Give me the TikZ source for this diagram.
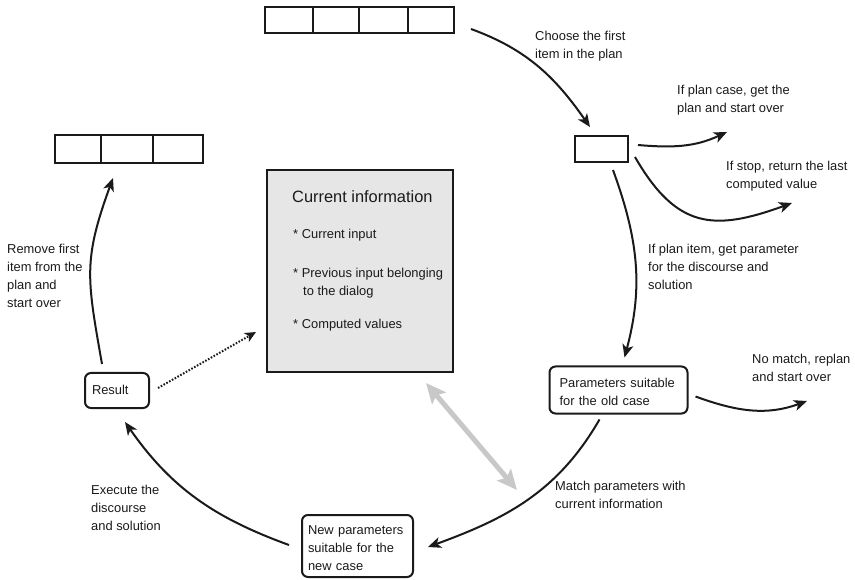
\documentclass[tikz,border=0pt]{standalone}
\usepackage{fontspec}
\setmainfont{Liberation Sans}
\usetikzlibrary{arrows.meta}
\definecolor{ink}{HTML}{1A1A1A}
\definecolor{panel}{HTML}{E6E6E6}
\definecolor{link}{HTML}{C8C8C8}

\begin{document}
\begin{tikzpicture}[x=1pt,y=-1pt,
  txt/.style={font=\fontsize{12.9}{18}\selectfont, text=ink},
  lbl/.style={txt, anchor=north west, inner sep=0pt, align=left, execute at begin node=\strut},
  flow/.style={draw=ink, line width=2pt, -{Stealth[length=13pt,width=11pt,inset=3.5pt]}},
  stripbox/.style={draw=ink, line width=2pt, inner sep=0pt},
  rbox/.style={txt, draw=ink, line width=2pt, rounded corners=6pt, align=left,
               inner ysep=0pt, execute at begin node=\strut},
]
\useasboundingbox (0,0) rectangle (855,580);

% plan strips
\node[stripbox, minimum width=189pt, minimum height=26pt] (plantop) at (359.5,20) {};
\foreach \dx in {49,95,144}
  \draw[ink, line width=2pt] ([xshift=\dx pt]plantop.north west) -- ([xshift=\dx pt]plantop.south west);
\node[stripbox, minimum width=148pt, minimum height=28pt] (planleft) at (129,149) {};
\foreach \dx in {47,99}
  \draw[ink, line width=2pt] ([xshift=\dx pt]planleft.north west) -- ([xshift=\dx pt]planleft.south west);

% current plan item
\node[stripbox, minimum width=53pt, minimum height=26pt] (cur) at (601.5,149) {};

% shared information panel
\node[draw=ink, fill=panel, line width=2pt, minimum width=186pt, minimum height=202pt, inner sep=0pt] (info) at (360,271) {};
\node[anchor=base west, inner sep=0pt, font=\fontsize{16.4}{20}\selectfont, text=ink] (infotitle) at (292,203) {Current information};
\node[lbl] (infolist) at (293,229.4) {* Current input\\[21pt]* Previous input belonging\\\hspace*{10pt}to the dialog\\[15pt]* Computed values};

% process boxes
\node[rbox, minimum width=64pt, minimum height=35pt, inner xsep=7pt, text width=50pt] (result) at (117,390.5) {Result};
\node[rbox, minimum width=138pt, minimum height=47pt, inner xsep=10pt, text width=118pt] (oldcase) at (618.5,390) {Parameters suitable\\for the old case};
\node[rbox, minimum width=111pt, minimum height=62pt, inner xsep=6pt, text width=99pt] (newcase) at (357.5,546) {New parameters\\suitable for the\\new case};

% edge labels
\node[lbl] (choose) at (535,31.4) {Choose the first\\item in the plan};
\node[lbl] (plancase) at (677,85.4) {If plan case, get the\\plan and start over};
\node[lbl] (stop) at (726,161.4) {If stop, return the last\\computed value};
\node[lbl] (planitem) at (648,244.4) {If plan item, get parameter\\for the discourse and\\solution};
\node[lbl] (nomatch) at (752,354.4) {No match, replan\\and start over};
\node[lbl] (match) at (555,481.4) {Match parameters with\\current information};
\node[lbl] (execute) at (91,485.4) {Execute the\\discourse\\and solution};
\node[lbl] (remove) at (7,244.4) {Remove first\\item from the\\plan and\\start over};

% loose ends
\coordinate (plancaseend) at (727,132);
\coordinate (stopend) at (792,203);
\coordinate (nomatchend) at (807,401);
\coordinate (matchend) at (517,490);

% connectors
\draw[flow] ([shift={(16,9)}]plantop.east) to[out=-20,in=125] ([shift={(-11.5,-8)}]cur.north);
\draw[flow] ([shift={(9,-4)}]cur.east) to[out=-5,in=205] (plancaseend);
\draw[flow] ([shift={(6,-6)}]cur.south east) to[out=-60,in=200,looseness=1.3] (stopend);
\draw[flow] ([shift={(11.5,7)}]cur.south) to[out=-70,in=75] ([shift={(6,-8)}]oldcase.north);
\draw[flow] ([shift={(7,6.5)}]oldcase.east) to[out=-20,in=200] (nomatchend);
\draw[flow] ([shift={(-19,5)}]oldcase.south) to[out=-120,in=20] ([shift={(14,1)}]newcase.east);
\draw[flow] ([shift={(-12,-1)}]newcase.west) to[out=160,in=-55] ([shift={(8,13)}]result.south);
\draw[flow] ([shift={(-15,-8)}]result.north) to[out=100,in=-110,looseness=1.2] ([shift={(-16,14)}]planleft.south);
\draw[ink, line width=2pt, dash pattern=on 1.6pt off 1.6pt, -{Stealth[length=11pt,width=10pt,inset=3pt]}]
  ([shift={(8,-2.5)}]result.east) -- ([shift={(-10,61)}]info.west);
\draw[link, line width=5pt, {Stealth[length=20pt,width=18pt,inset=4pt]}-{Stealth[length=20pt,width=18pt,inset=4pt]}]
  ([shift={(66,10)}]info.south) -- (matchend);
\end{tikzpicture}
\end{document}
